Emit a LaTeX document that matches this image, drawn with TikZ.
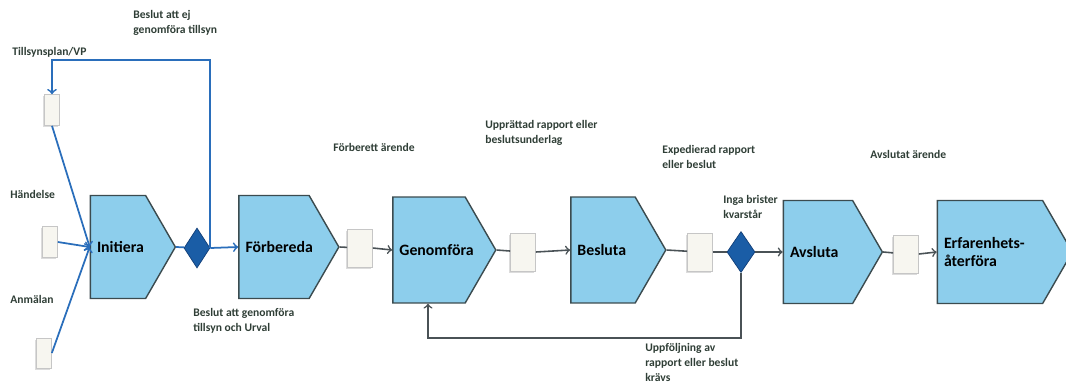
\documentclass[tikz,border=0pt]{standalone}
\usepackage{fontspec}
\setmainfont{Carlito}
\usepackage{tikz}
\usetikzlibrary{shapes.geometric}
\usetikzlibrary{shapes.symbols}
\usetikzlibrary{shadows}

\definecolor{stagefill}{HTML}{8DCEEC}
\definecolor{stageline}{HTML}{3B4B4F}
\definecolor{gatefill}{HTML}{1A5DA6}
\definecolor{gateline}{HTML}{123F78}
\definecolor{docfill}{HTML}{F7F6F0}
\definecolor{flowblue}{HTML}{2A6EBB}
\definecolor{flowgray}{HTML}{4A5256}
\definecolor{notetext}{HTML}{2F3E36}

\begin{document}
\begin{tikzpicture}[x=0.02cm,y=-0.02cm,
stage/.style={signal,signal to=east,signal pointer angle=120,draw=stageline,fill=stagefill,line width=0.8pt,inner sep=0pt,minimum height=2.06cm},
doc/.style={rectangle,draw=gray!45,fill=docfill,inner sep=0pt,minimum width=0.5cm,minimum height=0.76cm,drop shadow={shadow xshift=-1pt,shadow yshift=-1pt,fill=gray!55}},
gate/.style={diamond,draw=gateline,fill=gatefill,inner sep=0pt,minimum width=0.52cm,minimum height=0.8cm},
note/.style={align=left,anchor=north west,text=notetext,font=\fontsize{6.6}{8.6}\selectfont\bfseries,inner sep=0pt},
title/.style={font=\fontsize{9}{10.5}\selectfont\bfseries,align=left,anchor=west,inner sep=0pt,xshift=0.14cm},
blueline/.style={line width=1pt,draw=flowblue},
grayline/.style={line width=0.9pt,draw=flowgray}]
\useasboundingbox (0,0) rectangle (1066,383);
\path (118,247) node(ini)[stage,minimum width=1.7cm,label={[title]west:Initiera}]{}
(274,247) node(prep)[stage,minimum width=2.0cm,label={[title]west:Förbereda}]{}
(429,250) node(gen)[stage,minimum width=2.06cm,minimum height=2.12cm,label={[title]west:Genomföra}]{}
(603,250) node(bes)[stage,minimum width=1.9cm,minimum height=2.12cm,label={[title]west:Besluta}]{}
(818,252) node(avs)[stage,minimum width=1.98cm,label={[title]west:Avsluta}]{}
(990,252) node(erf)[stage,minimum width=2.7cm,label={[title]west:Erfarenhets-\\återföra}]{}
(52,110) node(tp)[doc,minimum width=0.3cm,minimum height=0.62cm]{}
(50,242) node(hn)[doc,minimum width=0.3cm,minimum height=0.62cm]{}
(44,353) node(an)[doc,minimum width=0.3cm,minimum height=0.6cm]{}
(360,248) node(b1)[doc]{}
(523,252) node(b2)[doc]{}
(700,252) node(b3)[doc]{}
(906,254) node(b4)[doc]{}
(197,248) node(d1)[gate]{}
(741,252) node(d2)[gate,minimum width=0.56cm,minimum height=0.82cm]{};
\path (133,10) node(ntop)[note]{Beslut att ej\\genomföra tillsyn}
(12,47) node(ntp)[note]{Tillsynsplan/VP}
(10,190) node(nhn)[note]{Händelse}
(10,295) node(nan)[note]{Anmälan}
(193,308) node(nyes)[note]{Beslut att genomföra\\tillsyn och Urval}
(333,143) node(nprep)[note]{Förberett ärende}
(485,120) node(ngen)[note]{Upprättad rapport eller\\beslutsunderlag}
(662,145) node(nbes)[note]{Expedierad rapport\\eller beslut}
(723,195) node(nok)[note]{Inga brister\\kvarstår}
(870,150) node(navs)[note]{Avslutat ärende}
(645,343) node(nfb)[note]{Uppföljning av\\rapport eller beslut\\krävs};
\coordinate (top) at (210,60);
\coordinate (fb) at (428,338);
% start
\draw[blueline,->](tp.south)--(ini.west);
\draw[blueline,->](hn.east)--(ini.west);
\draw[blueline,->](an.east)--(ini.west);
\draw[blueline](ini.east)--(d1);
\draw[blueline,->](d1.east)--(prep.west);
\draw[blueline,->](d1.east)--(d1.east|-top)-|(tp.north);
% main row
\draw[grayline](prep.east)--(b1);
\draw[grayline,->](b1.east)--(gen.west);
\draw[grayline](gen.east)--(b2);
\draw[grayline,->](b2.east)--(bes.west);
\draw[grayline](bes.east)--(b3);
\draw[grayline](b3.east)--(d2);
\draw[grayline,->](d2.east)--(avs.west);
\draw[grayline](avs.east)--(b4);
\draw[grayline,->](b4.east)--(erf.west);
\draw[grayline,->](d2.south)|-(fb)--(fb|-gen.south);
\end{tikzpicture}
\end{document}
